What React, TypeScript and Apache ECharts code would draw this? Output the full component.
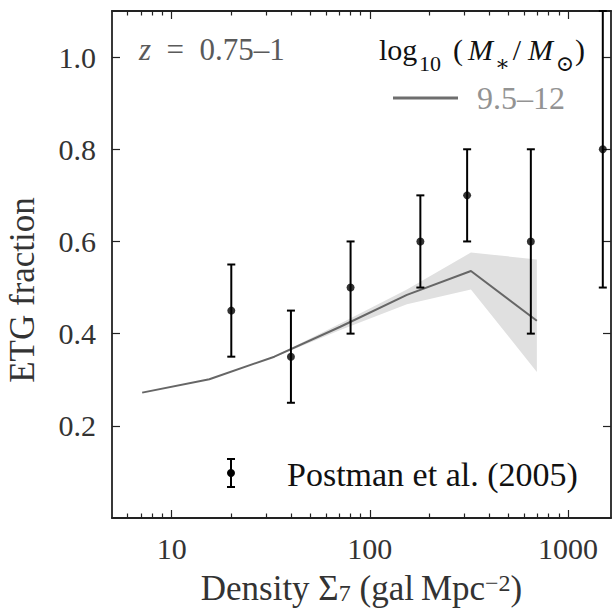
import React, { useEffect, useRef } from "react";
import * as echarts from "echarts";

// ---- data (density in gal Mpc^-2, ETG fraction) ----
const postmanDensity = [20, 40, 80, 180, 310, 650, 1500];
const postmanFrac = [0.45, 0.35, 0.5, 0.6, 0.7, 0.6, 0.8];
const postmanLow = [0.35, 0.25, 0.4, 0.5, 0.6, 0.4, 0.5];
const postmanHigh = [0.55, 0.45, 0.6, 0.7, 0.8, 0.8, 1.1];

const modelDensity = [7.1, 15.5, 33, 71, 154, 324, 697];
const modelFrac = [0.272, 0.301, 0.35, 0.415, 0.484, 0.536, 0.428];

const bandDensity = [33, 71, 154, 324, 697];
const bandLow = [0.349, 0.408, 0.464, 0.496, 0.317];
const bandHigh = [0.351, 0.422, 0.496, 0.576, 0.561];

const xMajorTicks = [10, 100, 1000];
const xMinorTicks = [6, 7, 8, 9, 20, 30, 40, 50, 60, 70, 80, 90, 200, 300, 400, 500, 600, 700, 800, 900];
const yTicks = [0.2, 0.4, 0.6, 0.8, 1.0];

const X_MIN = 5;
const X_MAX = 1650;
const Y_MIN = 0;
const Y_MAX = 1.1;

const FF = "'Liberation Serif', 'DejaVu Serif', serif";
const AX = "#222";
const TXT = "#333";
const lg = (v: number) => Math.log10(v);

function makeXAxis(position: "top" | "bottom", major: boolean, labels: boolean, name?: string) {
  const ticks = (major ? xMajorTicks : xMinorTicks).map(lg);
  return {
    type: "value",
    position,
    min: lg(X_MIN),
    max: lg(X_MAX),
    splitLine: { show: false },
    axisLine: { show: major, onZero: false, lineStyle: { color: AX, width: 1.8 } },
    axisTick: {
      show: true,
      inside: true,
      length: major ? 8 : 4.5,
      customValues: ticks,
      lineStyle: { color: AX, width: 1.2 },
    },
    axisLabel: {
      show: labels,
      customValues: xMajorTicks.map(lg),
      formatter: (v: number) => String(Math.round(Math.pow(10, v))),
      fontFamily: FF,
      fontSize: 30,
      color: TXT,
      margin: 15,
    },
    name: name,
    nameLocation: "middle",
    nameGap: 53,
    nameTextStyle: name
      ? {
          fontFamily: FF,
          fontSize: 35,
          color: TXT,
          lineHeight: 34,
          rich: {
            m: { fontSize: 35, lineHeight: 34, verticalAlign: "top", fontFamily: FF, color: TXT },
            sub: { fontSize: 24, lineHeight: 14, verticalAlign: "bottom", fontFamily: FF, color: TXT },
            sup: { fontSize: 24, lineHeight: 17, verticalAlign: "top", fontFamily: FF, color: TXT },
          },
        }
      : undefined,
  };
}

function makeYAxis(position: "left" | "right", labels: boolean) {
  return {
    type: "value",
    position,
    min: Y_MIN,
    max: Y_MAX,
    splitLine: { show: false },
    axisLine: { show: true, onZero: false, lineStyle: { color: AX, width: 1.8 } },
    axisTick: {
      show: true,
      inside: true,
      length: 8,
      customValues: yTicks,
      lineStyle: { color: AX, width: 1.2 },
    },
    axisLabel: {
      show: labels,
      customValues: yTicks,
      formatter: (v: number) => v.toFixed(1),
      fontFamily: FF,
      fontSize: 30,
      color: TXT,
      margin: 16,
    },
  };
}

// rich styles for the legend title log10(M*/Msun)
function titleRich(color: string) {
  const main = (w: number, extra: any = {}) => ({
    fontSize: 30, lineHeight: 40, verticalAlign: "top", fontFamily: FF, fill: color, width: w, align: "left", ...extra,
  });
  const sub = (w: number) => ({
    fontSize: 22, lineHeight: 22, verticalAlign: "bottom", fontFamily: FF, fill: color, width: w, align: "left",
  });
  return {
    lg: main(40),
    s10: sub(34),
    lp: main(12),
    m1: main(31, { fontStyle: "italic", align: "center" }),
    st: sub(13),
    sl: main(16, { align: "center" }),
    m2: main(31, { fontStyle: "italic", align: "center" }),
    od: sub(18),
    rp: main(12),
  };
}

export default function App() {
  const ref = useRef<HTMLDivElement>(null);

  useEffect(() => {
    if (!ref.current) return;
    const chart = echarts.init(ref.current, undefined, { renderer: "svg" });

    const bandData = bandDensity.map((d, i) => [lg(d), bandLow[i], bandHigh[i]]);
    const modelData = modelDensity.map((d, i) => [lg(d), modelFrac[i]]);
    const pointData = postmanDensity.map((d, i) => [lg(d), postmanFrac[i]]);
    const errData = postmanDensity.map((d, i) => [lg(d), postmanLow[i], postmanHigh[i]]);

    const option: any = {
      animation: false,
      backgroundColor: "#ffffff",
      grid: { left: 112, right: 3, top: 11, bottom: 91, outerBoundsMode: "none", containLabel: false },
      xAxis: [
        makeXAxis("bottom", true, true, "{m|Density Σ}{sub|7}{m|\u00a0(gal\u2009Mpc}{sup|−2}{m|)}"),
        makeXAxis("bottom", false, false),
        makeXAxis("top", true, false),
        makeXAxis("top", false, false),
      ],
      yAxis: [makeYAxis("left", true), makeYAxis("right", false)],
      series: [
        {
          name: "band",
          type: "custom",
          data: bandData,
          silent: true,
          z: 1,
          renderItem: (params: any, api: any) => {
            if (params.dataIndexInside !== 0) return null;
            const n = params.dataInsideLength;
            const upper: number[][] = [];
            const lower: number[][] = [];
            for (let k = 0; k < n; k++) {
              const x = api.value(0, k);
              upper.push(api.coord([x, api.value(2, k)]));
              lower.push(api.coord([x, api.value(1, k)]));
            }
            return {
              type: "polygon",
              shape: { points: upper.concat(lower.reverse()) },
              style: { fill: "#e0e0e0", stroke: "none" },
            };
          },
        },
        {
          name: "9.5–12",
          type: "line",
          data: modelData,
          symbol: "none",
          lineStyle: { color: "#666666", width: 2 },
          z: 2,
        },
        {
          name: "Postman errors",
          type: "custom",
          data: errData,
          z: 3,
          renderItem: (params: any, api: any) => {
            const x = api.value(0);
            const lo = api.coord([x, api.value(1)]);
            const hi = api.coord([x, api.value(2)]);
            const cap = 4;
            const style = { stroke: "#000", lineWidth: 2 };
            return {
              type: "group",
              children: [
                { type: "line", shape: { x1: lo[0], y1: lo[1], x2: hi[0], y2: hi[1] }, style },
                { type: "line", shape: { x1: lo[0] - cap, y1: lo[1], x2: lo[0] + cap, y2: lo[1] }, style },
                { type: "line", shape: { x1: hi[0] - cap, y1: hi[1], x2: hi[0] + cap, y2: hi[1] }, style },
              ],
            };
          },
        },
        {
          name: "Postman et al. (2005)",
          type: "scatter",
          data: pointData,
          symbol: "circle",
          symbolSize: 8,
          itemStyle: { color: "#000" },
          z: 4,
        },
      ],
      graphic: [
        {
          type: "text",
          x: 22,
          y: 290,
          rotation: Math.PI / 2,
          z: 20,
          style: {
            text: "ETG fraction",
            fontFamily: FF,
            fontSize: 35,
            fill: TXT,
            align: "center",
            verticalAlign: "middle",
          },
        },
        {
          type: "text",
          x: 139,
          y: 54,
          z: 20,
          style: {
            text: "{i|z}{m|\u00a0\u00a0=\u00a0\u00a00.75–1}",
            rich: {
              m: { fontSize: 31, lineHeight: 40, verticalAlign: "top", fontFamily: FF, fill: "#5a5a5a" },
              i: { fontSize: 31, lineHeight: 40, verticalAlign: "top", fontFamily: FF, fontStyle: "italic", fill: "#5a5a5a" },
            },
            align: "left",
            verticalAlign: "middle",
            fill: "#5a5a5a",
          },
        },
        {
          type: "text",
          x: 586,
          y: 54,
          z: 20,
          style: {
            text: "{lg|log}{s10|10}{lp|(}{m1|M}{st|∗}{sl|/}{m2|M}{od|⊙}{rp|)}",
            rich: titleRich("#111"),
            align: "right",
            verticalAlign: "middle",
            fill: "#111",
          },
        },
        {
          type: "line",
          z: 20,
          shape: { x1: 393, y1: 98, x2: 458, y2: 98 },
          style: { stroke: "#6e6e6e", lineWidth: 3 },
        },
        {
          type: "text",
          x: 477,
          y: 98,
          z: 20,
          style: {
            text: "9.5–12",
            fontFamily: FF,
            fontSize: 32,
            fill: "#939393",
            align: "left",
            verticalAlign: "middle",
          },
        },
        {
          type: "group",
          z: 20,
          children: [
            { type: "line", shape: { x1: 231, y1: 459, x2: 231, y2: 487 }, style: { stroke: "#000", lineWidth: 2 } },
            { type: "line", shape: { x1: 227, y1: 459, x2: 235, y2: 459 }, style: { stroke: "#000", lineWidth: 2 } },
            { type: "line", shape: { x1: 227, y1: 487, x2: 235, y2: 487 }, style: { stroke: "#000", lineWidth: 2 } },
            { type: "circle", shape: { cx: 231, cy: 473, r: 4 }, style: { fill: "#000" } },
          ],
        },
        {
          type: "text",
          x: 287,
          y: 474,
          z: 20,
          style: {
            text: "Postman et al. (2005)",
            fontFamily: FF,
            fontSize: 34,
            fill: "#111",
            align: "left",
            verticalAlign: "middle",
          },
        },
      ],
    };

    chart.setOption(option);
    return () => chart.dispose();
  }, []);

  return <div ref={ref} style={{ width: 614, height: 609, position: "absolute", left: 0, top: 0 }} />;
}
